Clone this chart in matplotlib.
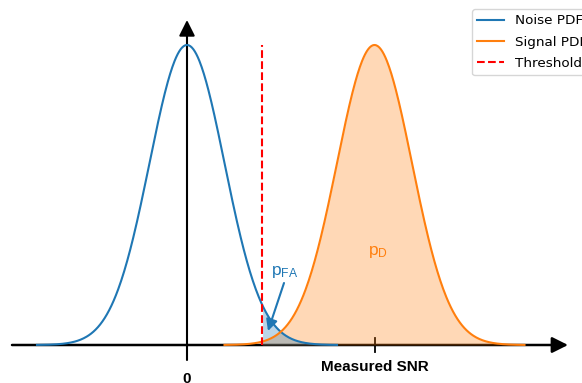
import numpy as np
import matplotlib
matplotlib.use("Agg")
from matplotlib import pyplot as plt

# distribution parameters
noise_mean, noise_sd = 0.0, 1.0
signal_mean, signal_sd = 5.0, 1.0
threshold = 2.0
span = 4.0  # curves drawn out to +/- 4 sd

labels = ["Noise PDF", "Signal PDF", "Threshold"]
x_label = "Measured SNR"
origin_label = "0"


def pdf(x, m, s):
    return np.exp(-0.5 * ((x - m) / s) ** 2) / (s * np.sqrt(2 * np.pi))


xn = np.linspace(noise_mean - span * noise_sd, noise_mean + span * noise_sd, 400)
xs = np.linspace(signal_mean - span * signal_sd, signal_mean + span * signal_sd, 400)
yn = pdf(xn, noise_mean, noise_sd)
ys = pdf(xs, signal_mean, signal_sd)
peak = pdf(noise_mean, noise_mean, noise_sd)

fig = plt.figure(figsize=(5.82, 3.83), dpi=100)
ax = fig.add_axes([0, 0, 1, 1])
ax.set_axis_off()

px = 37.5          # pixels per x unit
py = peak / 300.0  # y units per pixel
ax.set_xlim(-187 / px, (582 - 187) / px)
ax.set_ylim(-38 * py, 345 * py)

# axes drawn as arrows
ax.annotate("", xy=((568 - 187) / px, 0), xytext=((12 - 187) / px, 0),
            arrowprops=dict(arrowstyle="-|>", color="black", lw=1.8,
                            mutation_scale=24, shrinkA=0, shrinkB=0), zorder=1)
ax.annotate("", xy=(0, 325 * py), xytext=(0, -15 * py),
            arrowprops=dict(arrowstyle="-|>", color="black", lw=1.5,
                            mutation_scale=24, shrinkA=0, shrinkB=0), zorder=1)
ax.plot([signal_mean, signal_mean], [-7 * py, 7 * py], color="black", lw=1.3, zorder=1)

l1, = ax.plot(xn, yn, color="#1f77b4", lw=1.5, zorder=3)
l2, = ax.plot(xs, ys, color="#ff7f0e", lw=1.5, zorder=3)
l3, = ax.plot([threshold, threshold], [0, peak], color="red", ls="--", lw=1.5, zorder=4)

ax.fill_between(xs, 0, ys, where=xs >= threshold, color="#ff7f0e", alpha=0.3, lw=0, zorder=2)
ax.fill_between(xn, 0, yn, where=xn >= threshold, color="#1f77b4", alpha=0.3, lw=0, zorder=2)

ax.text(0, -27 * py, origin_label, ha="center", va="top", fontsize=11,
        fontweight="bold", family="Liberation Sans")
ax.text(signal_mean, -22 * py, x_label, ha="center", va="center", fontsize=11,
        fontweight="bold", family="Liberation Sans")

ax.text((285 - 187) / px, 73 * py, r"$\mathregular{p_{FA}}$", color="#1f77b4",
        ha="center", va="center", fontsize=12.5, family="Liberation Sans")
ax.annotate("", xy=((268 - 187) / px, 14 * py), xytext=((284 - 187) / px, 62 * py),
            arrowprops=dict(arrowstyle="-|>", color="#1f77b4", lw=1.5,
                            mutation_scale=17, shrinkA=0, shrinkB=0), zorder=5)
ax.text((378 - 187) / px, 93 * py, r"$\mathregular{p_{D}}$", color="#ff7f0e",
        ha="center", va="center", fontsize=12.5, family="Liberation Sans")

fig.legend([l1, l2, l3], labels, loc="upper left", borderaxespad=0,
           labelspacing=0.62, bbox_to_anchor=(472 / 582, 1 - 9 / 383), fontsize=9.7)

fig.savefig("out.png", dpi=100)
